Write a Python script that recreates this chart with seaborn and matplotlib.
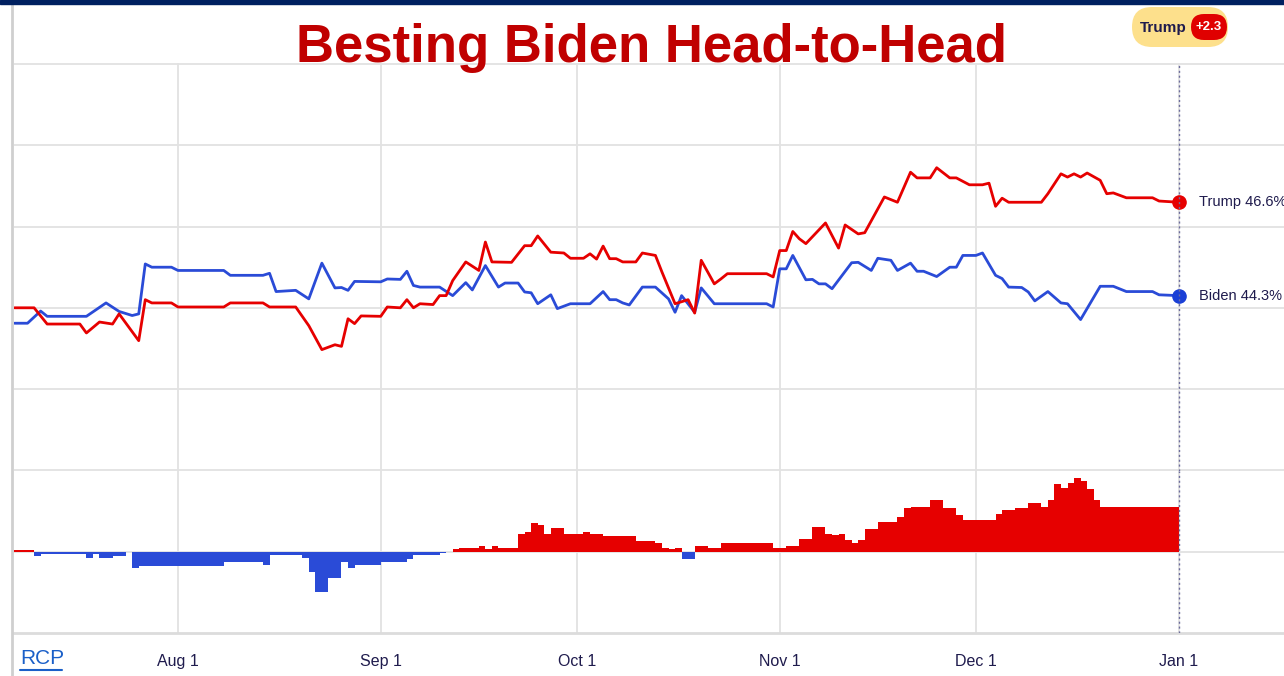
"""
Besting Biden Head-to-Head -- RCP style Trump vs Biden average + spread bars
"""

import pandas as pd
import matplotlib.pyplot as plt
import matplotlib.dates as mdates
from matplotlib.patches import FancyBboxPatch, Rectangle
from matplotlib.lines import Line2D
from matplotlib.transforms import IdentityTransform
import seaborn as sns

# ----------------- data (day offsets from Jul 7 2023) -----------------
start = pd.Timestamp("2023-07-07")

trump_days = [0, 3, 5, 10, 11, 13, 15, 16, 19, 20, 21, 24, 25, 32, 33, 38, 39, 43,
              45, 47, 49, 50, 51, 52, 53, 56, 57, 59, 60, 61, 62, 64, 65, 66, 67, 69,
              71, 72, 73, 76, 78, 79, 80, 82, 84, 85, 87, 88, 89, 90, 91, 92, 93, 95,
              96, 98, 99, 101, 102, 103, 104, 105, 107, 108, 109, 115, 116, 117, 118,
              119, 120, 121, 124, 126, 127, 129, 130, 133, 135, 137, 138, 140, 141,
              143, 144, 146, 148, 149, 150, 151, 152, 157, 158, 160, 161, 162, 163,
              164, 166, 167, 168, 170, 174, 175, 178]
trump_vals = [44.0, 44.0, 43.6, 43.6, 43.38, 43.65, 43.6, 43.85, 43.19, 44.2, 44.12,
              44.12, 44.02, 44.02, 44.12, 44.12, 44.02, 44.02, 43.56, 42.97, 43.09,
              43.05, 43.73, 43.61, 43.8, 43.79, 44.02, 44.0, 44.2, 44.0, 44.1, 44.08,
              44.3, 44.3, 44.67, 45.13, 44.92, 45.62, 45.13, 45.12, 45.53, 45.53,
              45.77, 45.37, 45.35, 45.22, 45.22, 45.33, 45.2, 45.52, 45.21, 45.21,
              45.13, 45.13, 45.35, 45.29, 44.88, 44.1, 44.15, 44.2, 43.87, 45.17,
              44.59, 44.71, 44.84, 44.84, 44.76, 45.41, 45.41, 45.88, 45.7, 45.58,
              46.09, 45.47, 46.04, 45.82, 45.85, 46.73, 46.6, 47.34, 47.2, 47.2,
              47.45, 47.2, 47.2, 47.03, 47.03, 47.07, 46.5, 46.7, 46.6, 46.6, 46.81,
              47.3, 47.22, 47.3, 47.22, 47.32, 47.14, 46.81, 46.83, 46.71, 46.71,
              46.63, 46.6]

biden_days = [0, 2, 4, 5, 11, 14, 16, 18, 19, 20, 21, 24, 25, 32, 33, 38, 39, 40, 43,
              45, 47, 49, 50, 51, 52, 56, 57, 59, 60, 61, 62, 65, 67, 69, 70, 72, 74,
              75, 77, 78, 79, 80, 82, 83, 85, 88, 90, 91, 92, 93, 94, 96, 98, 100,
              101, 102, 104, 105, 107, 115, 116, 117, 118, 119, 121, 122, 123, 124,
              125, 128, 129, 131, 132, 134, 135, 137, 138, 139, 141, 143, 144, 145,
              147, 148, 150, 151, 152, 154, 155, 156, 158, 160, 161, 163, 166, 168,
              170, 174, 175, 178]
biden_vals = [43.62, 43.62, 43.92, 43.79, 43.79, 44.12, 43.91, 43.81, 43.85, 45.08,
              45.0, 45.0, 44.92, 44.92, 44.8, 44.8, 44.85, 44.4, 44.43, 44.22, 45.1,
              44.49, 44.5, 44.43, 44.65, 44.64, 44.71, 44.7, 44.9, 44.55, 44.51,
              44.51, 44.3, 44.62, 44.44, 45.04, 44.51, 44.61, 44.61, 44.39, 44.37,
              44.1, 44.32, 43.98, 44.1, 44.1, 44.4, 44.2, 44.2, 44.12, 44.07, 44.51,
              44.51, 44.22, 43.89, 44.3, 43.89, 44.49, 44.1, 44.1, 44.02, 44.96,
              44.96, 45.29, 44.69, 44.7, 44.59, 44.59, 44.47, 45.11, 45.12, 44.92,
              45.22, 45.17, 44.92, 45.1, 44.9, 44.9, 44.77, 45.0, 45.0, 45.29, 45.29,
              45.35, 44.8, 44.72, 44.51, 44.5, 44.39, 44.17, 44.4, 44.12, 44.1,
              43.71, 44.53, 44.53, 44.4, 44.4, 44.32, 44.3]

# daily spread (Trump minus Biden), Jul 7 .. Dec 31
spread = [
    0.1, 0.1, 0.1, -0.2, -0.1, -0.1, -0.1, -0.1, -0.1, -0.1,          # Jul 7-16
    -0.1, -0.3, -0.1, -0.3, -0.3, -0.2, -0.2, 0.0, -0.8, -0.7,        # Jul 17-26
    -0.7, -0.7, -0.7, -0.7, -0.7, -0.7, -0.7, -0.7, -0.7, -0.7,       # Jul 27-Aug 5
    -0.7, -0.7, -0.5, -0.5, -0.5, -0.5, -0.5, -0.5, -0.65, -0.15,     # Aug 6-15
    -0.15, -0.15, -0.15, -0.15, -0.3, -1.0, -2.05, -2.05, -1.35, -1.35,  # Aug 16-25
    -0.5, -0.8, -0.65, -0.65, -0.65, -0.65, -0.5, -0.5, -0.5, -0.5,   # Aug 26-Sep 4
    -0.35, -0.15, -0.15, -0.15, -0.15, -0.05, 0.0, 0.15, 0.22, 0.22,  # Sep 5-14
    0.22, 0.3, 0.15, 0.3, 0.22, 0.22, 0.22, 0.9, 1.0, 1.5,            # Sep 15-24
    1.4, 0.9, 1.2, 1.2, 0.9, 0.9, 0.9, 1.0, 0.9, 0.9,                 # Sep 25-Oct 4
    0.82, 0.82, 0.82, 0.82, 0.82, 0.56, 0.56, 0.56, 0.48, 0.22,       # Oct 5-14
    0.14, 0.22, -0.37, -0.37, 0.3, 0.3, 0.22, 0.22, 0.48, 0.48,       # Oct 15-24
    0.48, 0.48, 0.48, 0.48, 0.48, 0.48, 0.22, 0.22, 0.3, 0.3,         # Oct 25-Nov 3
    0.65, 0.65, 1.28, 1.28, 0.9, 0.85, 0.9, 0.6, 0.48, 0.6,           # Nov 4-13
    1.19, 1.19, 1.55, 1.55, 1.55, 1.8, 2.23, 2.31, 2.31, 2.31,        # Nov 14-23
    2.65, 2.65, 2.23, 2.23, 1.89, 1.62, 1.62, 1.62, 1.62, 1.62,       # Nov 24-Dec 3
    1.96, 2.14, 2.14, 2.23, 2.23, 2.52, 2.52, 2.31, 2.65, 3.45,       # Dec 4-13
    3.28, 3.54, 3.79, 3.62, 3.2, 2.65, 2.3, 2.3, 2.3, 2.3,            # Dec 14-23
    2.3, 2.3, 2.3, 2.3, 2.3, 2.3, 2.3, 2.3,                           # Dec 24-31
]

title = "Besting Biden Head-to-Head"

RED = "#e60000"
BLUE = "#2a4bd7"
NAVY = "#1f1b4d"
GRID = "#e2e2e2"

# ----------------- frames -----------------
lines = pd.concat([
    pd.DataFrame({"date": start + pd.to_timedelta(biden_days, unit="D"),
                  "value": biden_vals, "candidate": "Biden"}),
    pd.DataFrame({"date": start + pd.to_timedelta(trump_days, unit="D"),
                  "value": trump_vals, "candidate": "Trump"}),
])
bars = pd.DataFrame({"date": start + pd.to_timedelta(range(len(spread)), unit="D"),
                     "spread": spread})
bars["color"] = [RED if v >= 0 else BLUE for v in bars["spread"]]

sns.set_style("white")
plt.rcParams["font.family"] = ["Liberation Sans", "DejaVu Sans"]

W, H = 1284, 676
fig = plt.figure(figsize=(W / 100, H / 100), dpi=100)
ax = fig.add_axes([14 / W, 1 - 471 / H, 1 - 14 / W, (471 - 63) / H])
axb = fig.add_axes([14 / W, 1 - 633 / H, 1 - 14 / W, (633 - 471) / H], sharex=ax)

# ----------------- lines -----------------
sns.lineplot(data=lines, x="date", y="value", hue="candidate",
             hue_order=["Biden", "Trump"], palette={"Biden": BLUE, "Trump": RED},
             linewidth=2.0, legend=False, ax=ax)

end_date = start + pd.Timedelta(days=trump_days[-1])
ax.plot([end_date], [trump_vals[-1]], "o", ms=9.5, color=RED, zorder=5)
ax.plot([end_date], [biden_vals[-1]], "o", ms=9.5, color="#1a3fd6", zorder=5)
ax.annotate(f"Trump {trump_vals[-1]:.1f}%", xy=(end_date, trump_vals[-1]),
            xytext=(14.5, 0), textcoords="offset points", va="center",
            fontsize=10.5, color=NAVY)
ax.annotate(f"Biden {biden_vals[-1]:.1f}%", xy=(end_date, biden_vals[-1]),
            xytext=(14.5, 0), textcoords="offset points", va="center",
            fontsize=10.5, color=NAVY)

# ----------------- spread bars -----------------
axb.bar(bars["date"], bars["spread"], width=1, align="edge",
        color=bars["color"], linewidth=0)

# ----------------- axes styling -----------------
xmin = start - pd.Timedelta(days=0.07)
xmax = start + pd.Timedelta(days=194.1)
ax.set_xlim(xmin, xmax)
ax.set_ylim(39.98, 50.03)
ax.set_yticks(range(40, 51, 2))
axb.set_ylim(-4.13, 4.13)
axb.set_yticks([0])

for a in (ax, axb):
    a.grid(True, color=GRID, linewidth=1.3)
    a.set_axisbelow(True)
    a.set_xlabel("")
    a.set_ylabel("")
    a.tick_params(left=False, labelleft=False, bottom=False, length=0)
    for s in a.spines.values():
        s.set_visible(False)
    a.axvline(end_date, color="#6c6c9c", linestyle=(0, (1.5, 2)), linewidth=1, zorder=6)

ax.tick_params(labelbottom=False)
axb.spines["bottom"].set_visible(True)
axb.spines["bottom"].set_color("#dcdcdc")
axb.spines["bottom"].set_linewidth(2)

axb.xaxis.set_major_locator(mdates.MonthLocator())
axb.xaxis.set_major_formatter(
    plt.FuncFormatter(lambda x, p: mdates.num2date(x).strftime("%b ") + str(mdates.num2date(x).day)))
axb.tick_params(axis="x", pad=15, labelsize=11.5, labelcolor=NAVY)

# ----------------- decorations -----------------
fig.add_artist(Rectangle((0, 1 - 3.5 / H), 1, 3.5 / H, transform=fig.transFigure,
                         color="#002060", zorder=10))
fig.add_artist(Line2D([12 / W, 12 / W], [0, 1 - 4 / H], transform=fig.transFigure,
                      color="#cfcfcf", linewidth=2))

fig.text(652 / W, 1 - 62 / H, title, ha="center", va="baseline", fontsize=38,
         weight="bold", color="#c00000")

# leader badge
lead = trump_vals[-1] - biden_vals[-1]
fig.add_artist(FancyBboxPatch((1132, H - 47), 96, 40, boxstyle="round,pad=0,rounding_size=20",
                              transform=IdentityTransform(), fc="#fde08c", ec="none"))
fig.add_artist(FancyBboxPatch((1191, H - 40), 36, 26, boxstyle="round,pad=0,rounding_size=13",
                              transform=IdentityTransform(), fc="#e00000", ec="none"))
fig.text(1163 / W, 1 - 28 / H, "Trump", ha="center", va="center", fontsize=11,
         weight="bold", color=NAVY)
fig.text(1209 / W, 1 - 27.5 / H, f"+{lead:.1f}", ha="center", va="center", fontsize=9.5,
         weight="bold", color="white")

# source link
fig.text(20 / W, 1 - 659 / H, "RCP", ha="left", va="center", fontsize=15, color="#1a5fc8")
fig.add_artist(Line2D([20 / W, 62 / W], [1 - 669.5 / H] * 2, transform=fig.transFigure,
                      color="#1a5fc8", linewidth=1.5))

plt.savefig("out.png", dpi=100)
plt.close()
